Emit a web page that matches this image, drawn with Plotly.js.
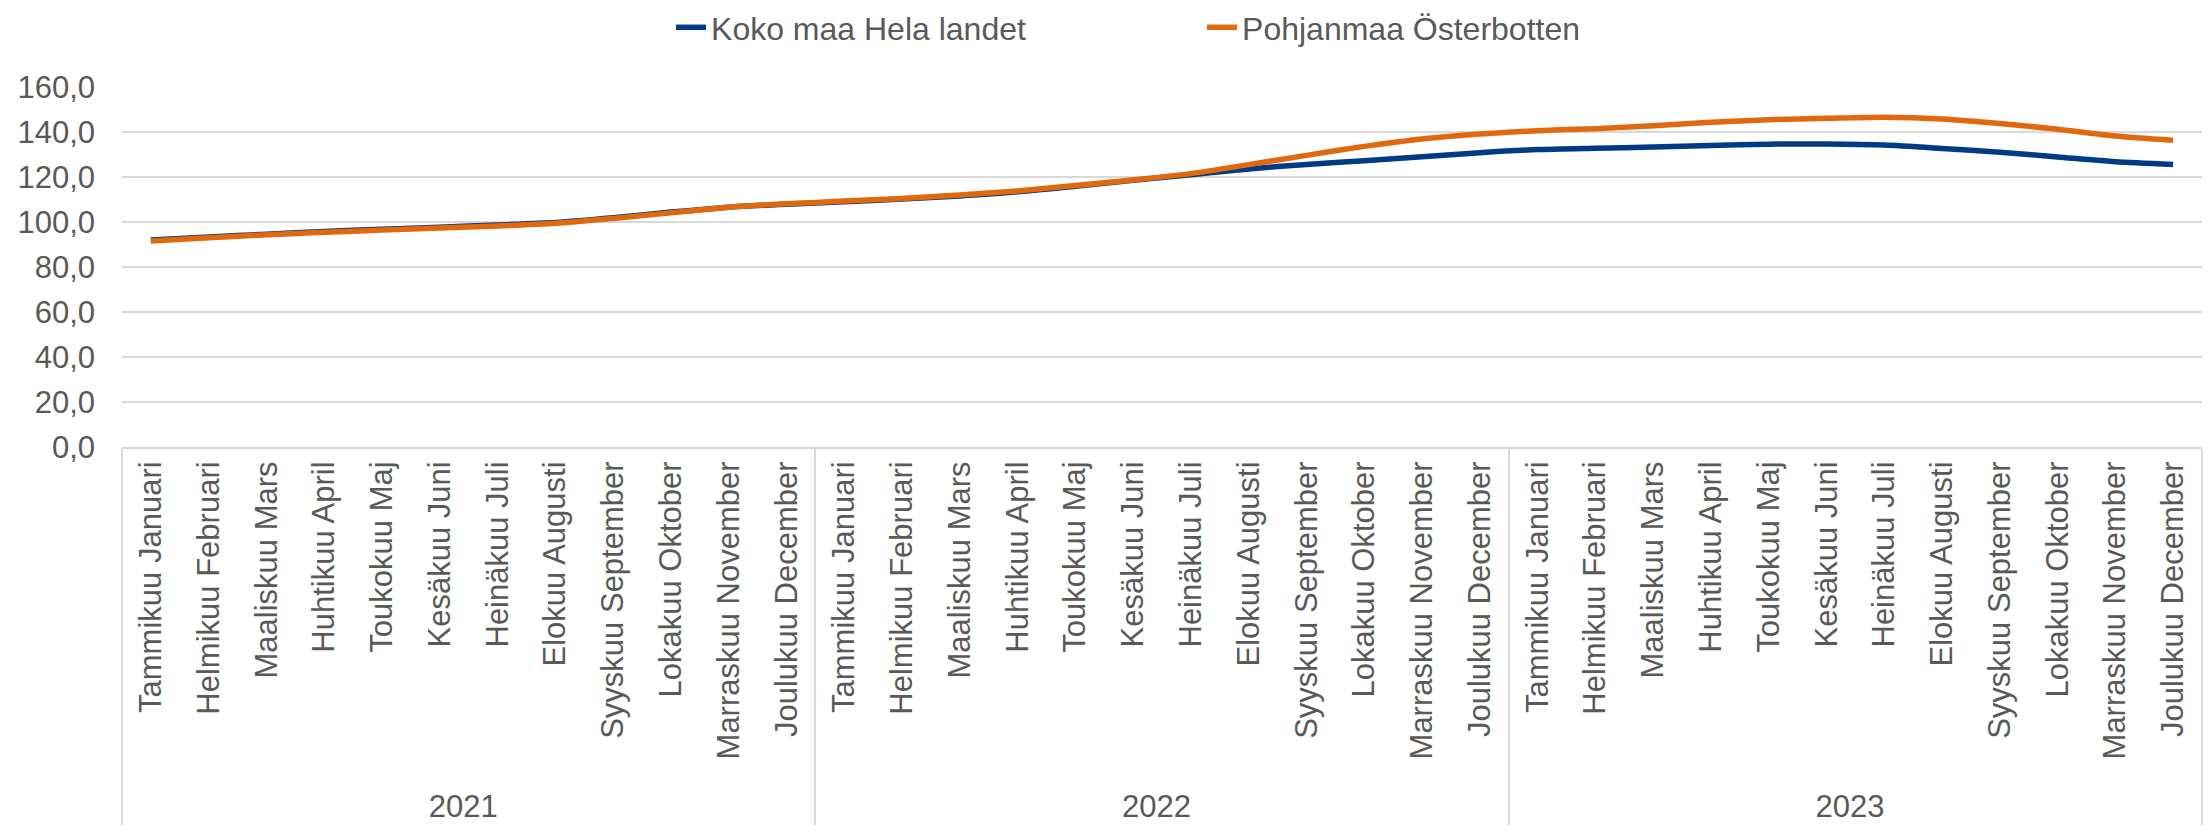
<!DOCTYPE html>
<html>
<head>
<meta charset="utf-8">
<script src="https://cdn.plot.ly/plotly-3.0.1.min.js"></script>
<style>
  html, body { margin: 0; padding: 0; background: #ffffff; }
  #chart { width: 2211px; height: 831px; }
</style>
</head>
<body>
<div id="chart"></div>
<script>
const years = ["2021", "2022", "2023"];
const months = [
  "Tammikuu Januari", "Helmikuu Februari", "Maaliskuu Mars", "Huhtikuu April",
  "Toukokuu Maj", "Kesäkuu Juni", "Heinäkuu Juli", "Elokuu Augusti",
  "Syyskuu September", "Lokakuu Oktober", "Marraskuu November", "Joulukuu December"
];
const seriesNames = ["Koko maa Hela landet", "Pohjanmaa Österbotten"];
const kokoMaa = [
  92.0, 93.3, 94.6, 95.8, 96.8, 97.7, 98.7, 99.8, 101.9, 104.4, 106.6, 107.9,
  109.0, 110.2, 111.6, 113.4, 115.9, 118.5, 121.0, 123.6, 125.6, 127.2, 129.0, 130.8,
  132.2, 132.8, 133.3, 134.0, 134.6, 134.7, 134.2, 132.7, 131.0, 128.9, 126.8, 125.6
];
const pohjanmaa = [
  91.6, 93.0, 94.3, 95.4, 96.4, 97.3, 98.2, 99.4, 101.6, 104.1, 106.6, 108.1,
  109.3, 110.5, 112.0, 113.8, 116.2, 118.7, 121.5, 125.5, 129.6, 133.6, 136.9, 139.1,
  140.6, 141.5, 142.8, 144.3, 145.5, 146.1, 146.6, 145.8, 143.8, 141.2, 138.2, 136.3
];
const yTicks = [0, 20, 40, 60, 80, 100, 120, 140, 160];

// multicategory x built from years x months
const xYear = [], xMonth = [];
years.forEach(y => months.forEach(m => { xYear.push(y); xMonth.push(m); }));
const nCats = xMonth.length;

const FONT = "Liberation Sans, Arial, sans-serif";
const GREY = "#595959";

const traces = [
  {
    x: [xYear, xMonth], y: kokoMaa, name: seriesNames[0], type: "scatter", mode: "lines",
    line: { color: "#003C86", width: 5.5, shape: "spline", smoothing: 0.7 }
  },
  {
    x: [xYear, xMonth], y: pohjanmaa, name: seriesNames[1], type: "scatter", mode: "lines",
    line: { color: "#E0690E", width: 5.5, shape: "spline", smoothing: 0.7 }
  }
];

const layout = {
  width: 2211, height: 831,
  margin: { l: 122, r: 9, t: 87, b: 384 },
  paper_bgcolor: "#ffffff", plot_bgcolor: "#ffffff",
  separators: ", ",
  font: { family: FONT, size: 31, color: GREY },
  showlegend: true,
  legend: {
    orientation: "h", xref: "container", x: 0.3035, xanchor: "left",
    yref: "container", y: 1, yanchor: "top",
    font: { family: FONT, size: 32, color: GREY },
    itemwidth: 30, tracegroupgap: 0, entrywidth: 486, entrywidthmode: "pixels"
  },
  xaxis: {
    type: "multicategory",
    range: [-0.5, nCats - 0.5],
    tickangle: -90,
    tickfont: { family: FONT, size: 31, color: GREY },
    showgrid: false, zeroline: false,
    showline: true, linecolor: "#d9d9d9", linewidth: 2,
    showdividers: true, dividercolor: "#d9d9d9", dividerwidth: 2,
    ticks: "", fixedrange: true
  },
  yaxis: {
    range: [0, 160], tickvals: yTicks, tickformat: ".1f",
    tickfont: { family: FONT, size: 31, color: GREY },
    showgrid: true, gridcolor: "#d9d9d9", gridwidth: 2,
    zeroline: false, showline: false,
    ticks: "", ticklabelstandoff: 26, fixedrange: true
  }
};

Plotly.newPlot("chart", traces, layout, { displayModeBar: false, staticPlot: true });
</script>
</body>
</html>
